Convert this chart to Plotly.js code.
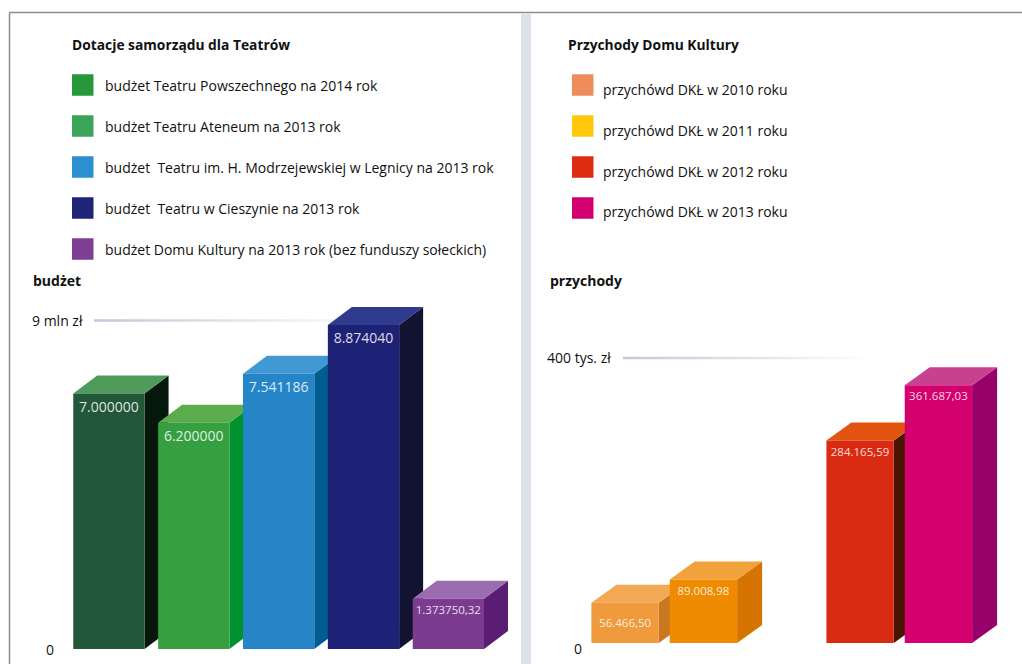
<!DOCTYPE html>
<html><head><meta charset="utf-8">
<script src="https://cdn.plot.ly/plotly-3.0.1.min.js"></script>
<style>html,body{margin:0;padding:0;background:#fff;}#chart{width:1022px;height:664px;}</style>
</head><body><div id="chart"></div>
<script>
// ---------------- data ----------------
const theatreTitle = 'Dotacje samorządu dla Teatrów';
const theatreAxisTitle = 'budżet';
const theatreNames = [
  'budżet Teatru Powszechnego na 2014 rok',
  'budżet Teatru Ateneum na 2013 rok',
  'budżet  Teatru im. H. Modrzejewskiej w Legnicy na 2013 rok',
  'budżet  Teatru w Cieszynie na 2013 rok',
  'budżet Domu Kultury na 2013 rok (bez funduszy sołeckich)'
];
const theatreValues = [7000000, 6200000, 7541186, 8874040, 1373750.32];
const theatreLabels = ['7.000000', '6.200000', '7.541186', '8.874040', '1.373750,32'];
const theatreTickValues = [0, 9000000];
const theatreTickLabels = ['0', '9 mln zł'];

const incomeTitle = 'Przychody Domu Kultury';
const incomeAxisTitle = 'przychody';
const incomeNames = [
  'przychówd DKŁ w 2010 roku',
  'przychówd DKŁ w 2011 roku',
  'przychówd DKŁ w 2012 roku',
  'przychówd DKŁ w 2013 roku'
];
const incomeYears = ['2010', '2011', '2012', '2013'];
const incomeValues = [56466.50, 89008.98, 284165.59, 361687.03];
const incomeLabels = ['56.466,50', '89.008,98', '284.165,59', '361.687,03'];
const incomeTickValues = [0, 400000];
const incomeTickLabels = ['0', '400 tys. zł'];

// ---------------- styles ----------------
const theatreFront  = ['#22573a', '#36a041', '#2585c7', '#1e2277', '#7b3b8e'];
const theatreTop    = ['#4e9a5a', '#5aac4c', '#4199d3', '#2e3b8f', '#9b6cb0'];
const theatreSide   = ['#06170b', '#009130', '#005c91', '#121331', '#5b1d74'];
const theatreLegend = ['#26983a', '#3aa558', '#2b8fd0', '#1f2478', '#7d3f94'];
const incomeFront   = ['#ef9a3c', '#ee8b00', '#d92b12', '#d3006d'];
const incomeTop     = ['#f2a955', '#f2a23a', '#e2540f', '#c7418f'];
const incomeSide    = ['#c9781f', '#d57400', '#4a1500', '#98006a'];
const incomeLegend  = ['#ee8c5c', '#ffc80a', '#dc2c12', '#d4006f'];
const incomeTextAnchor = ['middle', 'end', 'end', 'end'];

const FONT = 'Open Sans, sans-serif';
const W = 1022, H = 664;

// panel geometry (pixels)
const panels = [
  {xa: 'x', ya: 'y', px0: 58, px1: 512, py0: 270, py1: 649, xr: [-0.6, 4.75], pxPerValue: 36.5e-6,
   dxPx: 24, dyPx: 18, cats: theatreNames, x: theatreNames, values: theatreValues, labels: theatreLabels,
   names: theatreNames, front: theatreFront, top: theatreTop, side: theatreSide, legend: theatreLegend,
   anchors: theatreNames.map(() => 'end'), barW: 0.84, textSize: 14,
   tickValues: theatreTickValues, tickLabels: theatreTickLabels, title: theatreTitle, axisTitle: theatreAxisTitle,
   titleX: 70, axisTitleX: 31, tickX: 30, zeroX: 49.5, zeroShift: 0, gridX0: 94, gridX1: 370,
   legX: 72, legTextX: 103, legY0: 85, legTextShift: 0},
  {xa: 'x2', ya: 'y2', px0: 582, px1: 1005, py0: 270, py1: 643, xr: [-0.55, 4.85], pxPerValue: 0.7125e-3,
   dxPx: 25, dyPx: 18, cats: [incomeYears[0], incomeYears[1], '\u00a0', incomeYears[2], incomeYears[3]],
   x: incomeYears, values: incomeValues, labels: incomeLabels,
   names: incomeNames, front: incomeFront, top: incomeTop, side: incomeSide, legend: incomeLegend,
   anchors: incomeTextAnchor, barW: 0.86, textSize: 11.5,
   tickValues: incomeTickValues, tickLabels: incomeTickLabels, title: incomeTitle, axisTitle: incomeAxisTitle,
   titleX: 566, axisTitleX: 548, tickX: 545, zeroX: 577.5, zeroShift: -5, gridX0: 623, gridX1: 870,
   legX: 572, legTextX: 601, legY0: 85, legTextShift: 4}
];

const traces = [], shapes = [], annotations = [];
const layout = {
  width: W, height: H, margin: {l: 0, r: 0, t: 0, b: 0},
  paper_bgcolor: '#ffffff', plot_bgcolor: 'rgba(0,0,0,0)',
  barmode: 'overlay', showlegend: false, font: {family: FONT, color: '#111'},
  shapes: shapes, annotations: annotations
};

// frame
shapes.push({type: 'line', xref: 'paper', yref: 'paper', x0: 9.5 / W, x1: 1, y0: 1 - 12.5 / H, y1: 1 - 12.5 / H,
  line: {color: '#8a8a8a', width: 1.5}});
shapes.push({type: 'line', xref: 'paper', yref: 'paper', x0: 9.5 / W, x1: 9.5 / W, y0: 0, y1: 1 - 12.5 / H,
  line: {color: '#8a8a8a', width: 1.5}});
shapes.push({type: 'rect', xref: 'paper', yref: 'paper', x0: 521 / W, x1: 531 / W, y0: 0, y1: 1 - 13.5 / H,
  line: {width: 0}, fillcolor: '#dde2ea'});

panels.forEach((p, pi) => {
  const suffix = pi === 0 ? '' : '2';
  const yMax = (p.py1 - p.py0) / p.pxPerValue;
  layout['xaxis' + suffix] = {domain: [p.px0 / W, p.px1 / W], range: p.xr, type: 'category',
    categoryorder: 'array', categoryarray: p.cats, showgrid: false, zeroline: false, showline: false,
    showticklabels: false, ticks: '', anchor: 'y' + suffix, fixedrange: true};
  layout['yaxis' + suffix] = {domain: [1 - p.py1 / H, 1 - p.py0 / H], range: [0, yMax], showgrid: false,
    zeroline: false, showline: false, showticklabels: false, ticks: '', anchor: 'x' + suffix, fixedrange: true};

  const ddx = p.dxPx * (p.xr[1] - p.xr[0]) / (p.px1 - p.px0);
  const ddy = p.dyPx * yMax / (p.py1 - p.py0);
  const half = p.barW / 2;

  // gridline (fading) at top tick
  const gy = p.tickValues[1];
  const N = 24;
  for (let s = 0; s < N; s++) {
    const xa0 = p.gridX0 + (p.gridX1 - p.gridX0) * s / N;
    const xa1 = p.gridX0 + (p.gridX1 - p.gridX0) * (s + 1) / N;
    shapes.push({type: 'line', xref: 'paper', yref: p.ya, x0: xa0 / W, x1: xa1 / W, y0: gy, y1: gy,
      layer: 'below', line: {color: 'rgba(190,199,214,' + (0.95 * (1 - s / N)).toFixed(3) + ')', width: 2.5}});
  }

  p.values.forEach((v, i) => {
    traces.push({type: 'bar', xaxis: p.xa, yaxis: p.ya, x: [p.x[i]], y: [v], name: p.names[i],
      width: p.barW, marker: {color: p.front[i], line: {width: 0}},
      text: [p.labels[i]], texttemplate: '%{text}', textposition: 'inside', insidetextanchor: p.anchors[i],
      constraintext: 'inside', textangle: 0,
      insidetextfont: {family: FONT, size: p.textSize, color: 'rgba(255,255,255,0.85)'},
      hoverinfo: 'skip', showlegend: false});
    const c = p.cats.indexOf(p.x[i]);
    const a = c - half, b = c + half;
    shapes.push({type: 'path', xref: p.xa, yref: p.ya, layer: 'below', line: {width: 0}, fillcolor: p.side[i],
      path: `M${b},0 L${b + ddx},${ddy} L${b + ddx},${v + ddy} L${b},${v} Z`});
    shapes.push({type: 'path', xref: p.xa, yref: p.ya, layer: 'below', line: {width: 0}, fillcolor: p.top[i],
      path: `M${a},${v} L${b},${v} L${b + ddx},${v + ddy} L${a + ddx},${v + ddy} Z`});
  });

  // tick labels and axis title
  annotations.push({xref: 'paper', yref: p.ya, x: p.tickX / W, y: p.tickValues[1], xanchor: 'left', yanchor: 'middle',
    text: p.tickLabels[1], showarrow: false, font: {family: FONT, size: 14, color: '#111'}});
  annotations.push({xref: 'paper', yref: p.ya, x: p.zeroX / W, y: p.tickValues[0], xanchor: 'center', yanchor: 'middle',
    yshift: p.zeroShift, text: p.tickLabels[0], showarrow: false, font: {family: FONT, size: 14, color: '#111'}});
  annotations.push({xref: 'paper', yref: 'paper', x: p.axisTitleX / W, y: 1 - 281 / H, xanchor: 'left', yanchor: 'middle',
    text: '<b>' + p.axisTitle + '</b>', showarrow: false, font: {family: FONT, size: 14, color: '#111'}});

  // legend
  annotations.push({xref: 'paper', yref: 'paper', x: p.titleX / W, y: 1 - 45 / H, xanchor: 'left', yanchor: 'middle',
    text: '<b>' + p.title + '</b>', showarrow: false, font: {family: FONT, size: 13.8, color: '#111'}});
  p.names.forEach((n, i) => {
    const cy = p.legY0 + 41 * i;
    shapes.push({type: 'rect', xref: 'paper', yref: 'paper', x0: p.legX / W, x1: (p.legX + 21.5) / W,
      y0: 1 - (cy + 10.75) / H, y1: 1 - (cy - 10.75) / H, line: {width: 0}, fillcolor: p.legend[i]});
    annotations.push({xref: 'paper', yref: 'paper', x: p.legTextX / W, y: 1 - (cy + p.legTextShift) / H,
      xanchor: 'left', yanchor: 'middle', text: n, showarrow: false, font: {family: FONT, size: 14, color: '#111'}});
  });
});

Plotly.newPlot('chart', traces, layout, {staticPlot: true, displayModeBar: false});
</script></body></html>
